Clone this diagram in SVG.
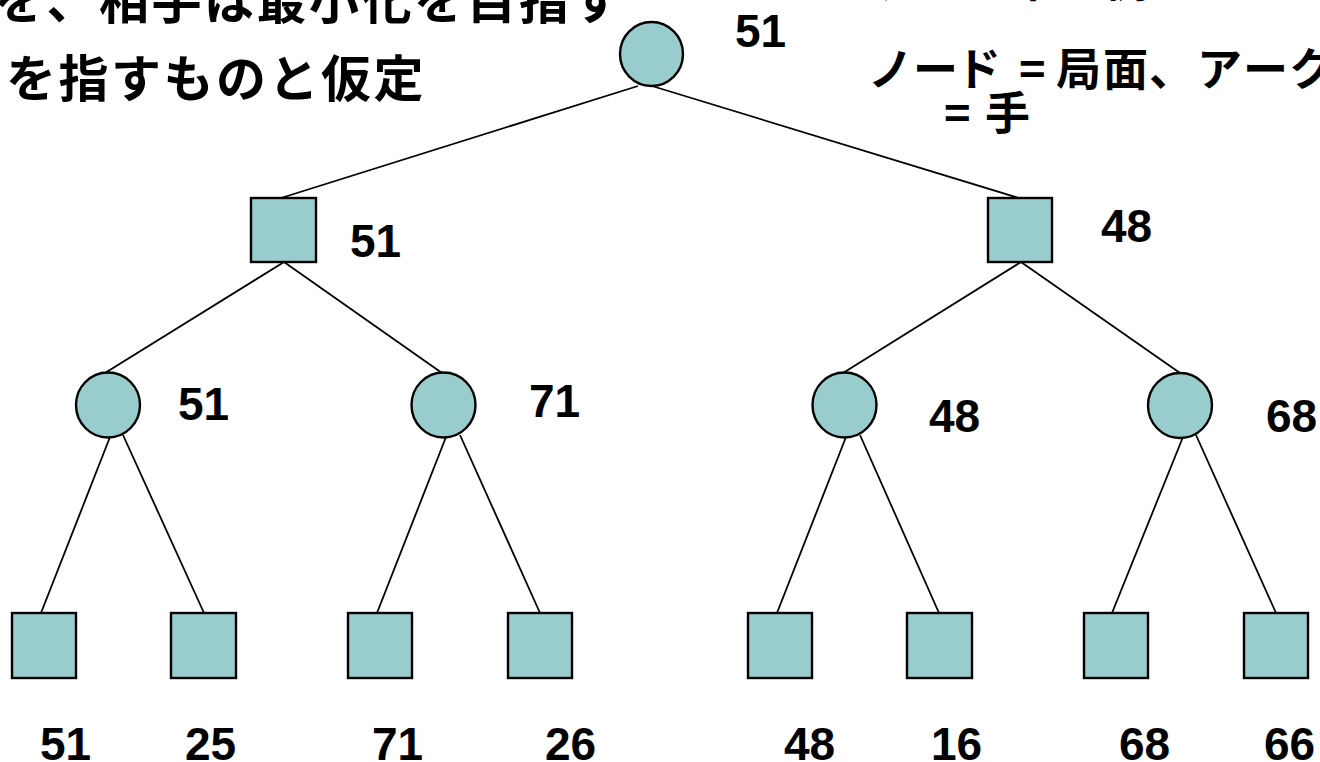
<svg xmlns="http://www.w3.org/2000/svg" width="1320" height="762" viewBox="0 0 1320 762">
<style>
.n{fill:#99CCCC;stroke:#000;stroke-width:2.4}
.e{stroke:#000;stroke-width:1.8;fill:none}
.v{font-family:"Liberation Sans",Arial,sans-serif;font-weight:bold;font-size:46px;fill:#000}
.j{font-family:"Noto Sans CJK JP","Noto Sans",sans-serif;font-weight:bold;fill:#000}
</style>
<rect width="1320" height="762" fill="#fff"/>
<g id="captions">
<text class="j" font-size="50" x="-6 46.5 99 151.5 204 256.5 309 361.5 414 466.5 519 571.5" y="19">を、相手は最小化を目指す</text>
<text class="j" font-size="50" x="6 58.5 111 163.5 216 268.5 321 373.5" y="97">を指すものと仮定</text>
<text class="j" font-size="44" x="870 917 964 1011 1058 1105" y="-3">ゲーム木の例</text>
<text class="j" font-size="45" x="868 913 956 1004 1019 1044 1056 1103 1149 1197 1243 1289" y="86">ノード = 局面、アーク</text>
<text class="j" font-size="45" x="944 970 985" y="130">= 手</text>
</g>
<g id="connectors">
<line class="e" x1="638" y1="86" x2="281" y2="198"/>
<line class="e" x1="652" y1="86" x2="1019" y2="198"/>
<line class="e" x1="284" y1="262" x2="105" y2="373"/>
<line class="e" x1="284" y1="262" x2="442" y2="373"/>
<line class="e" x1="1021" y1="262" x2="843" y2="373"/>
<line class="e" x1="1021" y1="262" x2="1180" y2="373"/>
<line class="e" x1="110" y1="437" x2="41" y2="613"/>
<line class="e" x1="123" y1="435" x2="204" y2="613"/>
<line class="e" x1="446" y1="437" x2="377" y2="613"/>
<line class="e" x1="460" y1="435" x2="540" y2="613"/>
<line class="e" x1="846" y1="437" x2="777" y2="613"/>
<line class="e" x1="860" y1="435" x2="939" y2="613"/>
<line class="e" x1="1183" y1="437" x2="1112" y2="613"/>
<line class="e" x1="1196" y1="435" x2="1276" y2="613"/>
</g>
<g id="root"><ellipse class="n" cx="651.5" cy="54" rx="31.5" ry="32"/><text class="v" x="735" y="47">51</text></g>
<g id="max1"><rect class="n" x="251" y="198" width="65" height="64"/><text class="v" x="350" y="257">51</text></g>
<g id="max2"><rect class="n" x="988" y="198" width="64" height="64"/><text class="v" x="1101" y="242">48</text></g>
<g id="min1"><ellipse class="n" cx="108" cy="405" rx="32" ry="32.5"/><text class="v" x="178" y="420">51</text></g>
<g id="min2"><ellipse class="n" cx="443.5" cy="405" rx="32" ry="32.5"/><text class="v" x="529" y="417">71</text></g>
<g id="min3"><ellipse class="n" cx="844.5" cy="405" rx="32" ry="32.5"/><text class="v" x="929" y="432">48</text></g>
<g id="min4"><ellipse class="n" cx="1180" cy="405.5" rx="32" ry="32.5"/><text class="v" x="1266" y="432">68</text></g>
<g id="leaf1"><rect class="n" x="12" y="613" width="64" height="65"/><text class="v" x="40" y="760">51</text></g>
<g id="leaf2"><rect class="n" x="171" y="613" width="65" height="65"/><text class="v" x="185" y="760">25</text></g>
<g id="leaf3"><rect class="n" x="348" y="613" width="64" height="65"/><text class="v" x="372" y="760">71</text></g>
<g id="leaf4"><rect class="n" x="508" y="613" width="64" height="65"/><text class="v" x="545" y="760">26</text></g>
<g id="leaf5"><rect class="n" x="748" y="613" width="64" height="65"/><text class="v" x="784" y="760">48</text></g>
<g id="leaf6"><rect class="n" x="907" y="613" width="65" height="65"/><text class="v" x="931" y="760">16</text></g>
<g id="leaf7"><rect class="n" x="1084" y="613" width="64" height="65"/><text class="v" x="1119" y="760">68</text></g>
<g id="leaf8"><rect class="n" x="1244" y="613" width="64" height="65"/><text class="v" x="1264" y="760">66</text></g>
</svg>
